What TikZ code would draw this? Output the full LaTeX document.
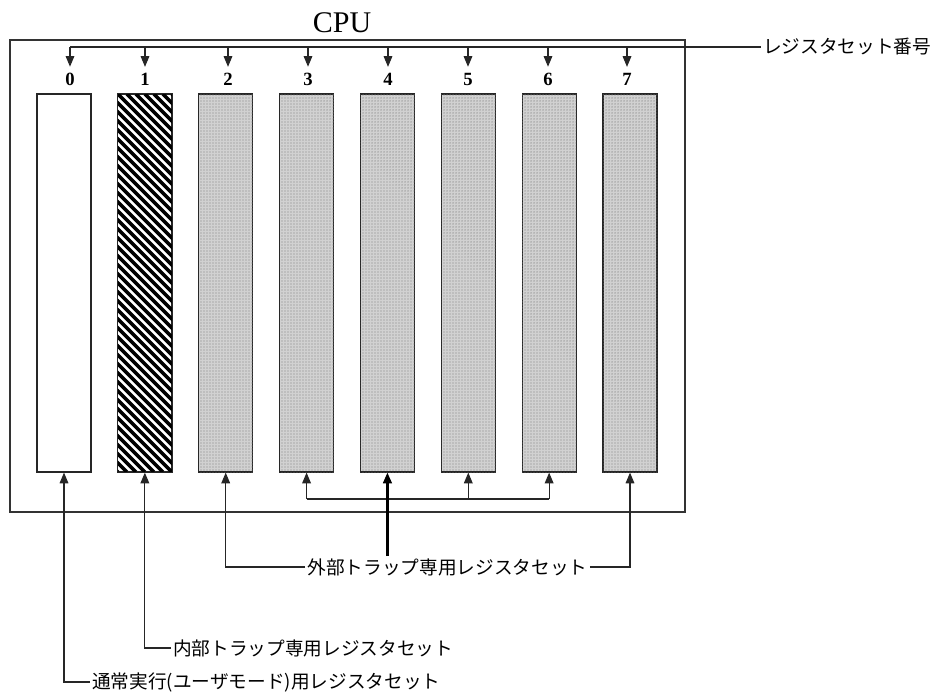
\documentclass[tikz,border=0pt]{standalone}
\usepackage{fontspec}
\setmainfont{Liberation Serif}
\newfontfamily\jp{Noto Sans CJK JP}
\usetikzlibrary{arrows.meta,patterns.meta}
\begin{document}
\begin{tikzpicture}[x=0.75pt,y=-0.75pt,
  arr/.style={-{Triangle[length=8pt,width=6.5pt]}, line width=0.8pt, draw=black!85},
  plain/.style={line width=0.8pt, draw=black!85},
  bar/.style={draw=black!85, line width=0.9pt, minimum width=40.5pt, minimum height=283.5pt, inner sep=0pt},
  barborder/.style={draw=black!85, line width=0.9pt},
  plainbar/.style={bar, fill=white},
  hatchline/.style={line width=2.6pt, draw=black},
  dotbar/.style={bar, fill=black!18, postaction={pattern={Dots[distance=2.25pt,radius=0.55pt]}, pattern color=black!50}},
  num/.style={font=\bfseries\fontsize{14}{16}\selectfont, inner sep=0pt, outer ysep=4.5pt},
  jlabel/.style={font=\jp\fontsize{14}{16}\selectfont, inner sep=1.5pt}]
\useasboundingbox (0,0) rectangle (938,698);

% CPU box and title
\node[draw=black!80, line width=1pt, minimum width=506.25pt, minimum height=354pt, inner sep=0pt] (cpubox) at (347.5,276) {};
\node[font=\fontsize{22.5}{26}\selectfont, inner sep=0pt] (cpu) at (342,23) {CPU};

% register bars
\node[plainbar] (b0) at (64,283) {};
\node[plainbar] (b1) at (144.86,283) {};
\node[dotbar] (b2) at (225.71,283) {};
\node[dotbar] (b3) at (306.57,283) {};
\node[dotbar] (b4) at (387.43,283) {};
\node[dotbar] (b5) at (468.29,283) {};
\node[dotbar] (b6) at (549.14,283) {};
\node[dotbar] (b7) at (630,283) {};

% hatching of bar 1
\begin{scope}
  \clip (b1.north west) rectangle (b1.south east);
  \foreach \k in {-44,...,8} {
    \draw[hatchline] (117.86+9*\k,94) -- ++(378,378);
  }
\end{scope}
\draw[barborder] (b1.north west) rectangle (b1.south east);

% numbers
\node[num] (n0) at (70,79) {0};
\node[num] (n1) at (145,79) {1};
\node[num] (n2) at (228,79) {2};
\node[num] (n3) at (308,79) {3};
\node[num] (n4) at (388,79) {4};
\node[num] (n5) at (468,79) {5};
\node[num] (n6) at (548,79) {6};
\node[num] (n7) at (627,79) {7};

% top distribution line
\coordinate (tl) at (70,47);
\node[jlabel, anchor=west] (regnum) at (761,47) {レジスタセット番号};
\draw[plain, line width=1pt] (tl) -- (regnum.west);
\foreach \i in {0,...,7} {
  \draw[arr] (n\i |- tl) -- (n\i.north);
}

% bottom labels
\node[jlabel] (ext) at (447.5,567) {外部トラップ専用レジスタセット};
\node[jlabel, anchor=west] (int) at (171,648) {内部トラップ専用レジスタセット};
\node[jlabel, anchor=west] (usr) at (90,682) {通常実行(ユーザモード)用レジスタセット};

\draw[arr] (usr.west) -| (b0.south);
\draw[arr] (int.west) -| (b1.south);
\draw[arr] (ext.west) -| (b2.south);
\draw[arr] (ext.east) -| (b7.south);

% bus for bars 3..6
\coordinate (bus) at (0,499);
\draw[plain] (b3.south |- bus) -- (b6.south |- bus);
\draw[arr] (b3.south |- bus) -- (b3.south);
\draw[arr] (b5.south |- bus) -- (b5.south);
\draw[arr] (b6.south |- bus) -- (b6.south);
\draw[arr, line width=1.6pt, draw=black] (ext.north -| b4.south) -- (b4.south);
\end{tikzpicture}
\end{document}
